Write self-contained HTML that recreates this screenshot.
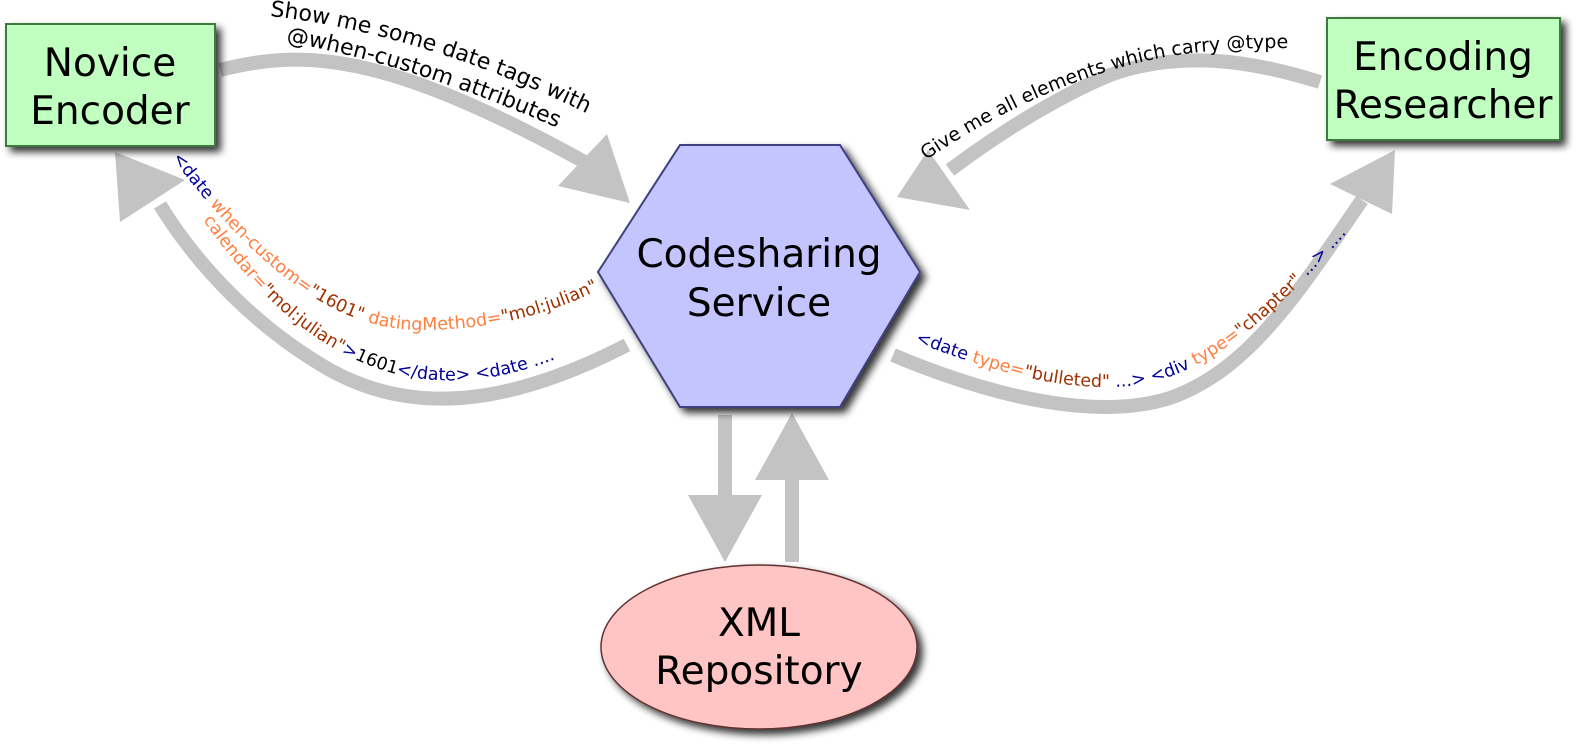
<!DOCTYPE html>
<html><head><meta charset="utf-8"><style>
html,body{margin:0;padding:0;background:#fff;width:1596px;height:748px;overflow:hidden;}
svg{display:block;font-family:"DejaVu Sans","Liberation Sans",sans-serif;}
</style></head><body>
<svg width="1596" height="748" viewBox="0 0 1596 748" xmlns="http://www.w3.org/2000/svg">
<defs>
<filter id="sh" x="-20%" y="-20%" width="150%" height="150%">
<feGaussianBlur in="SourceAlpha" stdDeviation="4"/><feOffset dx="5" dy="5"/>
<feComponentTransfer><feFuncA type="linear" slope="0.8"/></feComponentTransfer>
<feMerge><feMergeNode/><feMergeNode in="SourceGraphic"/></feMerge></filter>
<path id="t1" d="M270,16 C380,28 500,68 612,126"/>
<path id="t2" d="M286,42 C380,58 480,93 576,136"/>
<path id="t3" d="M926,160 C1000,110 1100,62 1200,52 C1260,46 1300,48 1330,50"/>
<path id="t4" d="M172,158 C250,260 330,330 420,330 C500,330 560,310 606,286"/>
<path id="t5" d="M203,220 C260,300 320,355 400,375 C470,390 530,372 592,344"/>
<path id="t6" d="M915,342 C990,370 1060,392 1130,386 C1220,376 1300,290 1385,188"/>
</defs>
<g fill="none" stroke="#c3c3c3" stroke-width="14">
<path d="M220,70 C300,50 380,48 590,165"/>
<path d="M1320,82 C1250,60 1180,50 1110,75 C1050,100 990,140 950,170"/>
<path d="M627,345 C520,400 420,420 330,370 C260,330 200,270 160,205"/>
<path d="M893,355 C1000,400 1100,420 1170,398 C1250,370 1300,290 1362,200"/>
<path d="M725,415 L725,500"/>
<path d="M792,562 L792,475"/>
</g>
<g fill="#c3c3c3">
<polygon points="630,203 558,186 607,134"/>
<polygon points="897,197 928,150 970,210"/>
<polygon points="115,152 120,222 185,180"/>
<polygon points="1395,150 1330,184 1392,214"/>
<polygon points="688,495 762,495 725,562"/>
<polygon points="755,480 829,480 792,413"/>
</g>
<g font-size="22" fill="#000">
<text><textPath href="#t1">Show me some date tags with</textPath></text>
<text><textPath href="#t2">@when-custom attributes</textPath></text>
</g>
<text font-size="19" fill="#000"><textPath href="#t3">Give me all elements which carry @type</textPath></text>
<text font-size="17.5"><textPath href="#t4"><tspan fill="#000099">&lt;date </tspan><tspan fill="#ff7f3f">when-custom=</tspan><tspan fill="#a03000">"1601"</tspan><tspan fill="#ff7f3f"> datingMethod=</tspan><tspan fill="#a03000">"mol:julian"</tspan></textPath></text>
<text font-size="17.5"><textPath href="#t5"><tspan fill="#ff7f3f">calendar=</tspan><tspan fill="#a03000">"mol:julian"</tspan><tspan fill="#000099">&gt;</tspan><tspan fill="#000">1601</tspan><tspan fill="#000099">&lt;/date&gt; &lt;date ....</tspan></textPath></text>
<text font-size="17.5"><textPath href="#t6"><tspan fill="#000099">&lt;date </tspan><tspan fill="#ff7f3f">type=</tspan><tspan fill="#a03000">"bulleted"</tspan><tspan fill="#000099"> ...&gt; &lt;div </tspan><tspan fill="#ff7f3f">type=</tspan><tspan fill="#a03000">"chapter"</tspan><tspan fill="#000099"> ...&gt; ....</tspan></textPath></text>
<rect x="6" y="24" width="209" height="122" fill="#c0ffc0" stroke="#3c7a3c" stroke-width="2" filter="url(#sh)"/>
<rect x="1327" y="18" width="233" height="122" fill="#c0ffc0" stroke="#3c7a3c" stroke-width="2" filter="url(#sh)"/>
<polygon points="598,272 680,145 840,145 920,272 840,407 680,407" fill="#c4c4ff" stroke="#404080" stroke-width="2" filter="url(#sh)"/>
<ellipse cx="759" cy="647" rx="158" ry="82" fill="#ffc4c4" stroke="#603030" stroke-width="1.5" filter="url(#sh)"/>
<g font-size="39" fill="#000" text-anchor="middle">
<text x="110" y="76">Novice</text><text x="110" y="124">Encoder</text>
<text x="1443" y="70">Encoding</text><text x="1443" y="118">Researcher</text>
<text x="759" y="267">Codesharing</text><text x="759" y="316">Service</text>
<text x="759" y="636">XML</text><text x="759" y="684">Repository</text>
</g>
</svg>
</body></html>
